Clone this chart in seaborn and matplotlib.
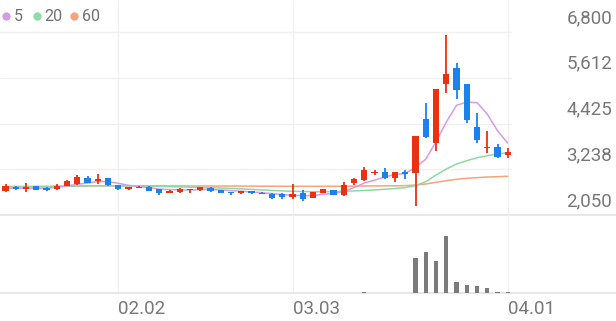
import numpy as np
import pandas as pd
import seaborn as sns
import matplotlib
matplotlib.use("Agg")
import matplotlib.pyplot as plt
from matplotlib.transforms import ScaledTranslation, blended_transform_factory
from matplotlib.lines import Line2D

# ---------------- data ----------------
opens = [2680, 2785, 2725, 2803, 2760, 2717, 2803, 2855, 3003, 2933,
         3004, 2829, 2722, 2755, 2785, 2716, 2630, 2660, 2705, 2700,
         2760, 2700, 2656, 2613, 2673, 2630, 2604, 2604, 2509, 2613,
         2490, 2630, 2690, 2565, 2889, 2965, 3135, 3158, 3018, 3160,
         3148, 4534, 3911, 5452, 5874, 5443, 4342, 3782, 3808, 3608]
highs = [2846, 2800, 2873, 2815, 2770, 2846, 2950, 3088, 3054, 3114,
         3020, 2840, 2785, 2800, 2795, 2720, 2690, 2745, 2730, 2780,
         2780, 2710, 2660, 2680, 2680, 2640, 2613, 2610, 2846, 2699,
         2650, 2725, 2700, 2900, 3002, 3295, 3218, 3262, 3160, 3218,
         4101, 4947, 5313, 6722, 5986, 5443, 4688, 4231, 3893, 3797]
lows = [2656, 2700, 2655, 2690, 2675, 2699, 2795, 2829, 2873, 2855,
        2810, 2700, 2700, 2740, 2680, 2580, 2625, 2630, 2630, 2682,
        2656, 2620, 2560, 2605, 2605, 2585, 2475, 2465, 2465, 2413,
        2480, 2625, 2570, 2550, 2829, 2930, 3088, 2985, 2915, 2977,
        2284, 4041, 3719, 5210, 5062, 4447, 3911, 3668, 3530, 3522]
closes = [2802, 2717, 2785, 2699, 2699, 2803, 2925, 3029, 2889, 2985,
          2829, 2717, 2780, 2785, 2682, 2630, 2682, 2725, 2725, 2765,
          2682, 2630, 2613, 2673, 2613, 2590, 2483, 2509, 2595, 2470,
          2638, 2716, 2580, 2840, 2976, 3218, 3150, 3003, 3158, 3110,
          4101, 4067, 5313, 5712, 5295, 4517, 3997, 3823, 3548, 3693]
ma5 = [2743, 2743, 2743, 2745, 2745, 2769, 2803, 2847, 2880, 2920,
       2915, 2873, 2821, 2785, 2760, 2722, 2710, 2702, 2702, 2710,
       2710, 2700, 2683, 2668, 2650, 2630, 2605, 2580, 2565, 2550,
       2555, 2590, 2605, 2665, 2760, 2880, 2955, 3038, 3101, 3129,
       3290, 3500, 3952, 4463, 4898, 4981, 4967, 4669, 4236, 3916]
ma20 = [2775, 2778, 2780, 2782, 2785, 2790, 2795, 2800, 2805, 2808,
        2810, 2808, 2805, 2800, 2795, 2790, 2785, 2780, 2772, 2765,
        2758, 2750, 2740, 2728, 2715, 2700, 2688, 2676, 2665, 2660,
        2655, 2655, 2657, 2665, 2675, 2688, 2700, 2718, 2740, 2760,
        2811, 2915, 3088, 3244, 3374, 3460, 3537, 3589, 3634, 3665]
ma60 = [2790, 2790, 2792, 2793, 2795, 2797, 2800, 2802, 2805, 2807,
        2808, 2808, 2808, 2808, 2807, 2806, 2805, 2805, 2804, 2804,
        2803, 2802, 2801, 2800, 2799, 2798, 2797, 2796, 2795, 2795,
        2794, 2795, 2795, 2797, 2800, 2803, 2805, 2807, 2809, 2812,
        2829, 2855, 2899, 2941, 2977, 3003, 3019, 3036, 3044, 3055]
volumes = [15000] * 7 + [60000, 50000, 60000] + [15000] * 23 + \
          [80000, 50000, 100000, 60000, 60000, 60000, 50000] + \
          [3500000, 4100000, 3230000, 5760000, 1160000,
           830000, 760000, 500000, 160000, 100000]

x_tick_idx = [11, 28, 49]
x_tick_labels = ["02.02", "03.03", "04.01"]
y_ticks = [2050, 3237.5, 4425, 5612.5, 6800]
y_tick_labels = ["2,050", "3,238", "4,425", "5,612", "6,800"]
ma_names = ["5", "20", "60"]

# ---------------- style ----------------
sns.set_theme(style="white")
plt.rcParams["font.family"] = ["Roboto", "DejaVu Sans"]

RED = "#e8330f"
BLUE = "#1b80f0"
MA_COLORS = ["#d89bea", "#8fd9a2", "#f6a47c"]
DOT_COLORS = ["#d49ce8", "#92dba6", "#f7a47e"]
GRID = "#f1f1f1"
TXT = "#777777"

W, H = 616, 321
fig = plt.figure(figsize=(W / 100, H / 100), dpi=100)
fig.patch.set_facecolor("white")
ax = fig.add_axes([0, 106 / H, 512 / W, 215 / H])
axv = fig.add_axes([0, 27.7 / H, 512 / W, 78.3 / H])

df = pd.DataFrame({"idx": np.arange(len(closes)), "open": opens, "high": highs,
                   "low": lows, "close": closes, "ma5": ma5, "ma20": ma20,
                   "ma60": ma60, "vol": volumes})

for a in (ax, axv):
    a.set_facecolor("none")
    for s in a.spines.values():
        s.set_visible(False)
    a.set_xlim(-0.54, 49.41)
    a.set_xticks(x_tick_idx)
    a.grid(True, axis="x", color=GRID, lw=1.0, zorder=0)
    a.tick_params(axis="both", length=0)

# moving averages
for col, c in zip(["ma60", "ma20", "ma5"], MA_COLORS[::-1]):
    sns.lineplot(data=df, x="idx", y=col, ax=ax, color=c, lw=1.1,
                 legend=False, zorder=2)

# candles
up = df["close"] >= df["open"]
cols = np.where(up, RED, BLUE)
bottom = np.minimum(df["open"], df["close"])
height = np.maximum(np.abs(df["close"] - df["open"]), 28)
ax.vlines(df["idx"], df["low"], df["high"], colors=cols, lw=1.3, zorder=3)
ax.bar(df["idx"], height, bottom=bottom, width=0.6, color=cols,
       linewidth=0, zorder=4)

ax.set_ylim(2050, 2050 + 215 * 25.96)
ax.set_yticks(y_ticks)
ax.set_yticklabels([])
ax.grid(True, axis="y", color=GRID, lw=1.0, zorder=0)
ax.set_xticklabels([])
ax.set_xlabel("")
ax.set_ylabel("")
ax.axhline(2050, xmin=0, xmax=W / 512, clip_on=False, color="#e4e4e4",
           lw=1.2, zorder=1)

trans = blended_transform_factory(ax.transAxes, ax.transData) + \
    ScaledTranslation(0, 0.14, fig.dpi_scale_trans)
for v, s in zip(y_ticks, y_tick_labels):
    ax.text(1 + 100 / 512, v, s, transform=trans, ha="right", va="center",
            fontsize=13.5, color=TXT, clip_on=False)

# volume
axv.bar(df["idx"], df["vol"], width=0.4, color="#7b7b7b", linewidth=0,
        zorder=3)
axv.set_ylim(0, 7830000)
axv.set_yticks([])
axv.set_xticklabels(x_tick_labels)
axv.tick_params(axis="x", pad=5, labelsize=13.5, labelcolor=TXT)
for lbl in axv.get_xticklabels():
    lbl.set_ha("left")
axv.axhline(0, xmin=0, xmax=W / 512, clip_on=False, color="#e2e2e2",
            lw=1.2, zorder=1)

# legend
dot_x = [6, 36.5, 74]
txt_x = [14, 44, 82]
for dx, tx, c, name in zip(dot_x, txt_x, DOT_COLORS, ma_names):
    fig.add_artist(Line2D([dx / W], [1 - 16 / H], marker="o", markersize=6,
                          color=c, markeredgewidth=0,
                          transform=fig.transFigure))
    fig.text(tx / W, 1 - 16.5 / H, name, ha="left", va="center",
             fontsize=11.5, color="#707070")

fig.savefig("out.png", dpi=100, facecolor="white")
